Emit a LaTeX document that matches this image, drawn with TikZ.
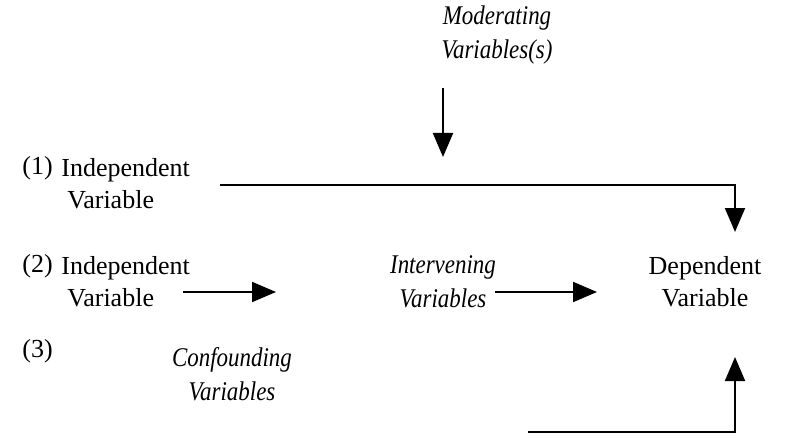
\documentclass[tikz,border=0pt]{standalone}
\usepackage{tikz}
\usepackage{fontspec}
\setmainfont{Liberation Serif}[ItalicFeatures={FakeStretch=0.85}]
\usetikzlibrary{arrows.meta,positioning,calc}

\begin{document}
\begin{tikzpicture}[x=0.5pt, y=-0.5pt]
  \tikzstyle{var}=[inner sep=0pt, font=\fontsize{13}{16}\selectfont, align=center]
  \tikzstyle{ivar}=[inner sep=0pt, font=\fontsize{13.5}{17}\selectfont\itshape, align=center]
  \tikzstyle{link}=[line width=1pt, -{Triangle[length=12pt, width=10pt]}]
  \useasboundingbox (0,0) rectangle (801,443);

  % variables
  \node[ivar] (mod) at (497,35) {Moderating\\Variables(s)};
  \node[var, anchor=west] (n1) at (22,168) {(1)};
  \node[var, anchor=west, align=left] (ind1) at (61,184) {Independent\\\hspace{3pt}Variable};
  \node[var, anchor=west] (n2) at (22,266) {(2)};
  \node[var, anchor=west, align=left] (ind2) at (61,282) {Independent\\\hspace{3pt}Variable};
  \node[ivar] (int) at (443,282) {Intervening\\Variables};
  \node[var] (dep) at (705,282) {Dependent\\Variable};
  \node[var, anchor=west] (n3) at (22,351) {(3)};
  \node[ivar] (conf) at (232,374) {Confounding\\Variables};

  % connector ends
  \coordinate (m0) at (443,88);
  \coordinate (m1) at (443,157);
  \coordinate (p0) at (220,185);
  \coordinate (p1) at (735,232);
  \coordinate (a0) at (183,292);
  \coordinate (a1) at (276,292);
  \coordinate (b0) at (495,292);
  \coordinate (b1) at (597,292);
  \coordinate (c0) at (528,432);
  \coordinate (c1) at (735,357);

  \draw[link] (m0) -- (m1);
  \draw[link] (p0) -| (p1);
  \draw[link] (a0) -- (a1);
  \draw[link] (b0) -- (b1);
  \draw[link] (c0) -| (c1);
\end{tikzpicture}
\end{document}
